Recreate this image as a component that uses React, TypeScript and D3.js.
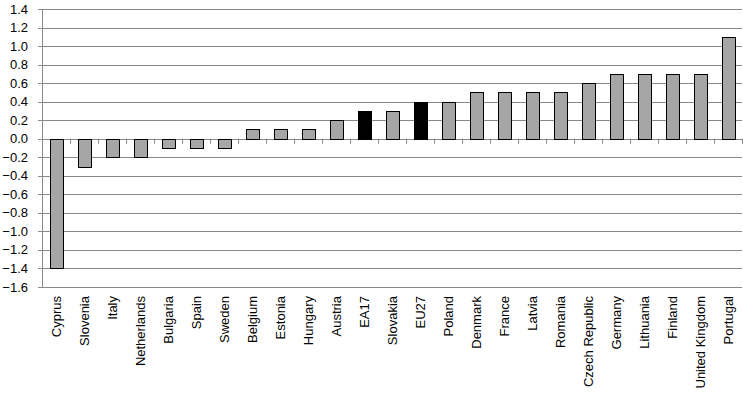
import * as d3 from 'd3'

const categories = [
  'Cyprus', 'Slovenia', 'Italy', 'Netherlands', 'Bulgaria', 'Spain', 'Sweden',
  'Belgium', 'Estonia', 'Hungary', 'Austria', 'EA17', 'Slovakia', 'EU27',
  'Poland', 'Denmark', 'France', 'Latvia', 'Romania', 'Czech Republic',
  'Germany', 'Lithuania', 'Finland', 'United Kingdom', 'Portugal',
]
const values = [
  -1.4, -0.3, -0.2, -0.2, -0.1, -0.1, -0.1,
  0.1, 0.1, 0.1, 0.2, 0.3, 0.3, 0.4,
  0.4, 0.5, 0.5, 0.5, 0.5, 0.6,
  0.7, 0.7, 0.7, 0.7, 1.1,
]
const highlighted = ['EA17', 'EU27']
const yTicks = [1.4, 1.2, 1.0, 0.8, 0.6, 0.4, 0.2, 0.0, -0.2, -0.4, -0.6, -0.8, -1.0, -1.2, -1.4, -1.6]

const W = 743
const H = 397
const margin = { top: 9, right: 1, left: 42 }
const plotBottom = 287
const font = '"Liberation Sans", Arial, sans-serif'

export default function App() {
  const x = d3.scaleBand<string>()
    .domain(categories)
    .range([margin.left, W - margin.right])
    .paddingInner(0.55)
    .paddingOuter(0.275)
  const y = d3.scaleLinear().domain([-1.6, 1.4]).range([plotBottom, margin.top])
  const step = x.step()
  const y0 = y(0)

  return (
    <div style={{ position: 'fixed', left: 0, top: 0, background: '#fff' }}>
      <svg width={W} height={H} style={{ display: 'block', fontFamily: font }}>
        {/* Gridlines */}
        {yTicks.map(t => (
          <line key={`g${t}`} x1={margin.left - 4} x2={W - margin.right} y1={Math.round(y(t)) + 0.5} y2={Math.round(y(t)) + 0.5}
            stroke="#888" strokeWidth={1} />
        ))}
        {/* Y axis */}
        <line x1={margin.left + 0.5} x2={margin.left + 0.5} y1={y(1.4)} y2={y(-1.6)} stroke="#888" />
        {yTicks.map(t => (
          <text key={`t${t}`} x={28} y={y(t)} dy="0.35em" textAnchor="end" fontSize={13} fill="#000">
            {d3.format('.1f')(t)}
          </text>
        ))}
        {/* X tick marks on zero line */}
        {d3.range(categories.length + 1).map(i => {
          const xx = Math.round(margin.left + i * step) + 0.5
          return <line key={`xt${i}`} x1={xx} x2={xx} y1={y0} y2={y0 + 5} stroke="#888" />
        })}
        {/* Bars */}
        {categories.map((c, i) => {
          const v = values[i]
          const top = Math.round(y(Math.max(0, v)))
          const bot = Math.round(y(Math.min(0, v)))
          return (
            <rect key={c} x={Math.round(x(c)!) + 0.5} y={top + 0.5} width={Math.round(x.bandwidth())} height={bot - top}
              fill={highlighted.includes(c) ? '#000' : '#a6a6a6'} stroke="#000" strokeWidth={1} />
          )
        })}
        {/* Category labels */}
        {categories.map(c => {
          const cx = x(c)! + x.bandwidth() / 2
          return (
            <text key={`l${c}`} transform={`translate(${cx},296) rotate(-90)`} dy="0.35em" textAnchor="end"
              fontSize={13} fill="#000">
              {c}
            </text>
          )
        })}
      </svg>
    </div>
  )
}
